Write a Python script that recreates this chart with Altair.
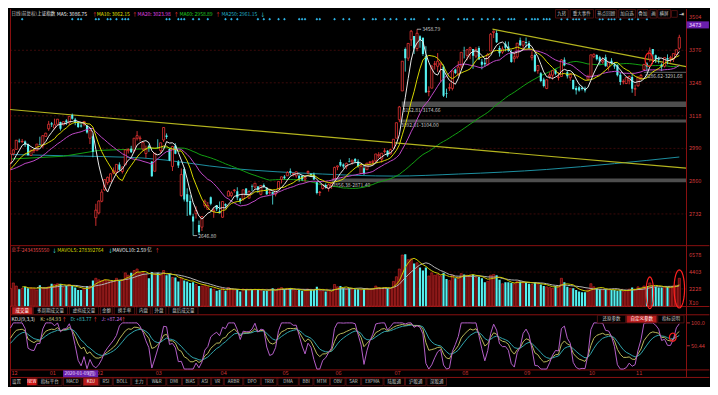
import altair as alt
import numpy as np
import pandas as pd

FONT = "Noto Sans CJK SC"

# ---------------- data ----------------
month_labels = ["12", "01", "02", "03", "04", "05", "06", "07", "08", "09", "10", "11"]
month_trading_days = [13, 16, 20, 22, 21, 18, 20, 23, 21, 22, 16, 16]

# closes before the first visible candle (only used to warm up MA5/10/20)
prior_close = [2909, 2934, 2911, 2904, 2885, 2906, 2910, 2903, 2890, 2872,
               2876, 2885, 2878, 2899, 2912, 2914, 2917, 2924, 2916]

open_px = [
    2935, 2969, 2986, 3020, 3016, 3017, 3007, 2962, 2981, 2981, 3007, 3000, 3037,
    3067, 3089, 3070, 3085, 3094, 3083, 3100, 3091, 3121, 3104, 3093, 3080, 3085, 3080, 3030, 3038,
    2717, 2736, 2782, 2827, 2856, 2859, 2893, 2897, 2927, 2899, 2925, 2981, 2989, 2980, 3030, 3028, 2988, 2970, 3000, 2938,
    2900, 2994, 2981, 3023, 3041, 2988, 2919, 3001, 2936, 2804, 2909, 2809, 2783, 2722, 2733, 2688, 2680, 2765, 2750, 2798, 2742, 2767,
    2743, 2719, 2771, 2802, 2804, 2824, 2821, 2793, 2790, 2832, 2794, 2839, 2838, 2840, 2809, 2846, 2835, 2815, 2818, 2810, 2830,
    2868, 2879, 2882, 2901, 2890, 2882, 2883, 2882, 2869, 2894, 2889, 2887, 2857, 2816, 2832, 2846, 2833, 2843,
    2870, 2917, 2936, 2927, 2919, 2940, 2937, 2948, 2938, 2891, 2912, 2906, 2935, 2935, 2941, 2961, 2948, 2978, 2981, 2968,
    2991, 3030, 3103, 3216, 3381, 3345, 3417, 3432, 3383, 3431, 3425, 3353, 3213, 3227, 3321, 3313, 3319, 3312, 3208, 3227, 3226, 3300, 3282,
    3315, 3373, 3356, 3378, 3381, 3353, 3385, 3331, 3327, 3320, 3373, 3446, 3444, 3385, 3369, 3402, 3391, 3369, 3343, 3350, 3415,
    3396, 3409, 3405, 3347, 3357, 3296, 3286, 3261, 3226, 3273, 3278, 3299, 3269, 3273, 3339, 3290, 3268, 3259, 3228, 3231, 3229, 3226,
    3262, 3274, 3351, 3357, 3349, 3330, 3349, 3310, 3335, 3319, 3317, 3280, 3252, 3245, 3256, 3271,
    3223, 3236, 3268, 3300, 3324, 3341, 3381, 3356, 3344, 3320, 3313, 3346, 3344, 3341, 3359, 3384,
]
high_px = [
    2968, 2986, 3023, 3028, 3027, 3021, 3009, 2984, 2985, 3007, 3036, 3041, 3051,
    3098, 3094, 3107, 3105, 3095, 3095, 3105, 3116, 3127, 3110, 3096, 3092, 3096, 3082, 3061, 3045,
    2772, 2785, 2829, 2869, 2879, 2891, 2915, 2927, 2935, 2918, 2984, 2991, 3000, 3030, 3058, 3040, 3013, 3001, 3005, 2939,
    2971, 3026, 3012, 3074, 3049, 2990, 3000, 3010, 2944, 2911, 2916, 2833, 2806, 2733, 2762, 2706, 2722, 2789, 2779, 2801, 2758, 2767,
    2781, 2781, 2774, 2825, 2821, 2830, 2837, 2795, 2827, 2833, 2825, 2848, 2853, 2842, 2844, 2852, 2838, 2832, 2820, 2823, 2860,
    2879, 2885, 2900, 2911, 2893, 2898, 2883, 2884, 2883, 2903, 2893, 2895, 2860, 2822, 2846, 2852, 2852, 2856,
    2918, 2922, 2946, 2931, 2934, 2952, 2944, 2952, 2947, 2924, 2921, 2932, 2939, 2945, 2968, 2975, 2972, 2991, 2983, 2988,
    3027, 3091, 3157, 3333, 3387, 3404, 3456, 3432, 3459, 3435, 3426, 3392, 3234, 3317, 3334, 3365, 3328, 3320, 3225, 3246, 3295, 3304, 3333,
    3368, 3390, 3381, 3390, 3381, 3388, 3392, 3342, 3345, 3365, 3444, 3454, 3454, 3394, 3391, 3411, 3410, 3378, 3367, 3404, 3426,
    3411, 3426, 3413, 3372, 3363, 3318, 3290, 3268, 3262, 3290, 3296, 3301, 3290, 3341, 3348, 3296, 3285, 3261, 3235, 3237, 3235, 3233,
    3280, 3359, 3364, 3360, 3354, 3348, 3359, 3329, 3345, 3329, 3320, 3288, 3262, 3270, 3277, 3285,
    3241, 3272, 3283, 3323, 3329, 3387, 3381, 3359, 3351, 3325, 3347, 3360, 3354, 3364, 3379, 3437,
]
low_px = [
    2935, 2962, 2986, 3012, 3012, 2996, 2962, 2960, 2972, 2980, 3004, 2992, 3036,
    3059, 3074, 3065, 3084, 3060, 3081, 3082, 3081, 3103, 3081, 3070, 3072, 3077, 3048, 3007, 2955,
    2685, 2730, 2778, 2822, 2847, 2858, 2888, 2889, 2902, 2891, 2924, 2970, 2972, 2974, 3021, 3017, 2982, 2952, 2976, 2878,
    2900, 2990, 2971, 3015, 3027, 2940, 2901, 2967, 2913, 2800, 2781, 2724, 2725, 2647, 2714, 2649, 2665, 2757, 2750, 2766, 2717, 2743,
    2734, 2717, 2754, 2802, 2797, 2816, 2786, 2772, 2784, 2804, 2794, 2822, 2832, 2815, 2805, 2834, 2807, 2808, 2769, 2801, 2829,
    2852, 2868, 2882, 2884, 2879, 2874, 2859, 2862, 2857, 2889, 2878, 2866, 2809, 2803, 2828, 2832, 2820, 2831,
    2870, 2904, 2918, 2911, 2908, 2935, 2926, 2934, 2914, 2890, 2885, 2906, 2922, 2924, 2935, 2952, 2934, 2970, 2956, 2966,
    2988, 3030, 3093, 3216, 3292, 3334, 3393, 3361, 3372, 3386, 3354, 3210, 3195, 3226, 3300, 3291, 3252, 3192, 3189, 3216, 3218, 3282, 3274,
    3302, 3344, 3337, 3341, 3303, 3345, 3340, 3301, 3311, 3315, 3373, 3424, 3405, 3351, 3362, 3372, 3370, 3327, 3328, 3343, 3392,
    3378, 3387, 3378, 3336, 3290, 3284, 3250, 3230, 3223, 3263, 3260, 3278, 3257, 3272, 3313, 3265, 3256, 3223, 3202, 3213, 3218, 3210,
    3259, 3274, 3345, 3336, 3320, 3323, 3312, 3296, 3322, 3303, 3273, 3239, 3242, 3243, 3242, 3209,
    3196, 3233, 3258, 3298, 3293, 3331, 3340, 3326, 3324, 3294, 3308, 3321, 3328, 3330, 3356, 3378,
]
close_px = [
    2968, 2984, 3022, 3017, 3017, 3005, 2963, 2983, 2982, 3007, 3005, 3040, 3050,
    3085, 3084, 3083, 3105, 3067, 3095, 3092, 3116, 3107, 3090, 3074, 3076, 3096, 3052, 3061, 2977,
    2747, 2783, 2818, 2867, 2876, 2890, 2902, 2927, 2906, 2917, 2984, 2985, 2975, 3030, 3040, 3031, 3013, 2988, 2991, 2880,
    2971, 2993, 3012, 3072, 3035, 2943, 2997, 2969, 2923, 2887, 2789, 2780, 2729, 2702, 2746, 2660, 2722, 2782, 2765, 2772, 2747, 2750,
    2735, 2781, 2764, 2821, 2815, 2826, 2797, 2783, 2827, 2811, 2820, 2838, 2853, 2827, 2844, 2839, 2809, 2815, 2810, 2822, 2860,
    2878, 2872, 2895, 2895, 2892, 2898, 2870, 2868, 2875, 2899, 2884, 2868, 2814, 2818, 2847, 2837, 2847, 2852,
    2915, 2921, 2923, 2919, 2931, 2938, 2944, 2938, 2921, 2920, 2890, 2932, 2936, 2939, 2968, 2965, 2971, 2980, 2962, 2985,
    3026, 3091, 3153, 3333, 3345, 3403, 3451, 3383, 3443, 3415, 3361, 3210, 3214, 3314, 3321, 3333, 3325, 3197, 3205, 3228, 3295, 3287, 3310,
    3368, 3372, 3378, 3386, 3354, 3379, 3340, 3319, 3321, 3360, 3439, 3451, 3408, 3364, 3381, 3386, 3374, 3330, 3350, 3404, 3396,
    3411, 3405, 3385, 3355, 3293, 3316, 3255, 3235, 3260, 3279, 3296, 3284, 3270, 3338, 3317, 3274, 3280, 3223, 3219, 3218, 3224, 3218,
    3272, 3358, 3360, 3341, 3332, 3336, 3313, 3328, 3325, 3312, 3278, 3251, 3254, 3269, 3273, 3225,
    3225, 3271, 3277, 3320, 3312, 3374, 3360, 3342, 3339, 3310, 3347, 3340, 3347, 3363, 3378, 3427,
]
# volume, axis units (x10^5)
volume = [
    2300, 3000, 2600, 2200, 2300, 2500, 2300, 2400, 2300, 2100, 2700, 2300, 2380,
    2500, 2900, 2800, 2900, 2886, 2434, 2600, 2800, 2600, 2400, 2100, 2100, 2300, 2600, 2600, 3300,
    3600, 3400, 3300, 3400, 3300, 3200, 3200, 3600, 3300, 3400, 4300, 4000, 4300, 4600, 4800, 4300, 4400, 4100, 3600, 4400,
    4100, 4300, 4000, 4600, 4000, 4200, 3700, 3700, 3200, 3600, 3300, 3200, 3000, 3100, 2800, 2600, 2600, 2700, 2500, 2300, 2200, 2000,
    2100, 2300, 2000, 2400, 2200, 2100, 2200, 1900, 2200, 2200, 2100, 2200, 2100, 2200, 2100, 2000, 2000, 2100, 2300, 2000, 2300,
    2400, 2200, 2300, 2300, 2100, 2000, 2100, 2000, 2000, 2200, 2100, 2100, 2500, 2000, 2000, 1900, 2000, 1900,
    2800, 2500, 2600, 2300, 2200, 2300, 2200, 2200, 2200, 2100, 2200, 2300, 2200, 2300, 2600, 2400, 2300, 2400, 2300, 2300,
    3200, 3800, 4800, 6600, 6700, 6000, 6100, 5500, 5600, 5000, 4600, 5000, 3900, 4300, 4000, 4100, 3900, 4300, 3500, 3300, 4000, 3600, 3700,
    4200, 4100, 4000, 4000, 4100, 3700, 3800, 3600, 3100, 3200, 4000, 4100, 4000, 3400, 2900, 3100, 3100, 3000, 2900, 3200, 3200,
    3100, 3100, 2900, 2800, 3100, 2900, 2800, 2600, 2500, 2400, 2300, 2600, 2600, 3600, 3100, 2500, 2300, 2300, 2100, 1900, 1800, 1800,
    2100, 2900, 2500, 2300, 2200, 2100, 2200, 2100, 2100, 2100, 2000, 2100, 1900, 2000, 2200, 2400,
    2200, 2500, 2300, 2600, 2600, 3000, 2700, 2500, 2400, 2400, 2500, 2500, 2400, 2600, 2700, 3600,
]

ma60_read_day = [0, 18, 30, 45, 53]
ma60_read_val = [2948, 2959, 2982, 2988, 2993]
ma250_day = [0, 18, 45, 75, 106, 130, 152, 182, 205, 227]
ma250_val = [2966, 2961, 2952, 2911, 2889, 2881, 2889, 2907, 2930, 2956]

price_ticks = [3504, 3376, 3248, 3118, 2990, 2860, 2732]
vol_ticks = [6578, 4403, 2228]
kdj_ticks = [100.0, 50.44]

news_days = [4, 21, 23, 24, 29, 30, 33, 34, 36, 38, 39, 40, 53, 54, 57, 58, 59, 62, 64, 67,
             73, 75, 77, 84, 86, 88, 91, 93, 98, 99, 100, 104, 105, 110, 113, 115, 120, 123,
             124, 127, 129, 131, 134, 136, 137, 142, 145, 147, 152, 154, 155, 157, 160, 162,
             164, 166, 169, 170, 171, 175, 177, 178, 179, 181, 182, 183, 187, 189, 191, 192,
             193, 195, 200, 201, 203, 204, 205, 207, 210, 211, 213, 216]

gap_text = ["3152.81-3174.66", "3092.01-3104.00", "2856.38-2871.40", "3286.62-3291.68"]
gap_low = [3152.81, 3092.01, 2856.38, 3286.62]
gap_high = [3174.66, 3104.00, 2871.40, 3291.68]
gap_start = [132.8, 132.2, 109.0, 215.0]

trend_day = [-0.13, 229.28, 163.6, 229.28]
trend_val = [3143, 2912, 3459, 3312]
trend_id = ["a", "a", "b", "b"]

# ---------------- layout ----------------
SX = 700 / 718
SY = 377 / 395


def X(v):
    return v * SX


def Y(v):
    return v * SY


W = X(694)
H = Y(395)
RED = "#ff3a3a"
CYAN = "#54f0f0"
FRAME = "#8a1010"
GRID = "#4a0c0c"
AXT = "#d23a3a"
ONE = pd.DataFrame({"k": [0]})
LAT = 5.0   # latin text size
CJK = 4.5   # CJK text size
AXS = 5.6   # axis label size

xs = alt.Scale(domain=[-0.13, 229.28], range=[0, W], nice=False, zero=False)
ps = alt.Scale(domain=[2607.2, 3537.8], range=[Y(248), 0], nice=False, zero=False)
vs = alt.Scale(domain=[0, 6578], range=[Y(311.5), Y(258)], nice=False, zero=False)
ks = alt.Scale(domain=[0, 100], range=[Y(377.4), Y(329)], nice=False, zero=False, clamp=True)


def XE(f="i"):
    return alt.X(f"{f}:Q", scale=xs, axis=None)


def YE(f, s):
    return alt.Y(f"{f}:Q", scale=s, axis=None)


def T(s, x, y, color, size=LAT, align="left", baseline="middle"):
    return alt.Chart(ONE).mark_text(text=s, align=align, baseline=baseline, fontSize=size,
                                    font=FONT, color=color).encode(
        x=alt.value(X(x)), y=alt.value(Y(y)))


def R(x1, y1, x2, y2, fill, stroke=None, sw=0.8):
    kw = dict(fill=fill)
    if stroke:
        kw.update(stroke=stroke, strokeWidth=sw)
    return alt.Chart(ONE).mark_rect(**kw).encode(
        x=alt.value(X(x1)), x2=alt.value(X(x2)), y=alt.value(Y(y1)), y2=alt.value(Y(y2)))


def HL(y, x1, x2, color, sw=1.0):
    return alt.Chart(ONE).mark_rule(color=color, strokeWidth=sw).encode(
        x=alt.value(X(x1)), x2=alt.value(X(x2)), y=alt.value(Y(y)))


def VL(x, y1, y2, color, sw=1.0):
    return alt.Chart(ONE).mark_rule(color=color, strokeWidth=sw).encode(
        x=alt.value(X(x)), y=alt.value(Y(y1)), y2=alt.value(Y(y2)))


def tabs(labels, edges, y1, y2, selected=None, size=CJK):
    out = []
    for lab, (a, b) in zip(labels, edges):
        sel = lab == selected
        out.append(R(a, y1, b, y2, "#b81c1c" if sel else "#000000", "#5e1414", 0.8))
        out.append(T(lab, (a + b) / 2, (y1 + y2) / 2 + 0.3, "#ffffff" if sel else "#c8c8c8",
                     size=size, align="center"))
    return out


def ellipse_shape(ratio):
    pts = []
    for k in range(32):
        t = 2 * np.pi * k / 32
        pts.append(f"{ratio * np.cos(t):.3f} {np.sin(t):.3f}")
    return "M " + " L ".join(pts) + " Z"


# ---------------- derived tables ----------------
N = len(close_px)
df = pd.DataFrame({"i": np.arange(N), "o": open_px, "h": high_px, "l": low_px,
                   "c": close_px, "v": volume})
df["h"] = df[["h", "o", "c"]].max(axis=1)
df["l"] = df[["l", "o", "c"]].min(axis=1)
df["up"] = df.c >= df.o
df["xl"] = df.i - 0.36
df["xr"] = df.i + 0.36
df["cb"] = np.where((df.c - df.o).abs() < 1.5, df.o + 1.5, df.c)
df["z"] = 0

allc = pd.Series(prior_close + close_px, dtype=float)
P = len(prior_close)
for n in (5, 10, 20):
    df[f"ma{n}"] = allc.rolling(n).mean().iloc[P:].to_numpy()
df["mv5"] = df.v.rolling(5).mean()
df["mv10"] = df.v.rolling(10).mean()

ma60_calc = df.c.rolling(60).mean()
ma60_df = pd.concat([
    pd.DataFrame({"i": ma60_read_day, "m": ma60_read_val}),
    pd.DataFrame({"i": df.i, "m": ma60_calc}).dropna(),
])
ma250_df = pd.DataFrame({"i": ma250_day, "m": ma250_val})
trend_df = pd.DataFrame({"i": trend_day, "p": trend_val, "g": trend_id})

# KDJ(9,3,3)
K = D = 50.0
ks_, ds_, js_ = [], [], []
for t in range(N):
    lo = df.l.iloc[max(0, t - 8):t + 1].min()
    hi = df.h.iloc[max(0, t - 8):t + 1].max()
    rsv = (df.c.iloc[t] - lo) / (hi - lo) * 100 if hi > lo else 50
    K = 2 / 3 * K + rsv / 3
    D = 2 / 3 * D + K / 3
    ks_.append(K)
    ds_.append(D)
    js_.append(3 * K - 2 * D)
df["K"], df["D"], df["J"] = ks_, ds_, js_

up = df[df.up]
dn = df[~df.up]

starts = np.concatenate([[0], np.cumsum(month_trading_days)[:-1]])
month_df = pd.DataFrame({"s": starts, "m": month_labels})

layers = []

# grids
layers.append(alt.Chart(pd.DataFrame({"p": price_ticks[1:]})).mark_rule(
    color=GRID, strokeDash=[2, 2], strokeWidth=0.8).encode(
    y=YE("p", ps), x=alt.value(0), x2=alt.value(W)))
layers.append(alt.Chart(pd.DataFrame({"p": vol_ticks[1:]})).mark_rule(
    color=GRID, strokeDash=[2, 2], strokeWidth=0.8).encode(
    y=YE("p", vs), x=alt.value(0), x2=alt.value(W)))

# frame lines
for yy in (248, 311.8, 320.5, 378.3, 386.2):
    layers.append(HL(yy, 0, 718, FRAME))
layers.append(VL(694.5, 0, 386.2, FRAME))
layers.append(VL(0.5, 0, 395, FRAME))

# gaps
gaps_df = pd.DataFrame({"s": gap_start, "lo": gap_low, "hi": gap_high, "t": gap_text})
layers.append(alt.Chart(gaps_df).mark_rect(color="#4e4e4e").encode(
    x=XE("s"), x2=alt.value(W), y=YE("lo", ps), y2="hi:Q"))
layers.append(alt.Chart(gaps_df).mark_text(align="left", baseline="top", fontSize=LAT, font=FONT,
                                           color="#c8c8c8", dx=1, dy=0.6).encode(
    x=XE("s"), y=YE("lo", ps), text="t:N"))

# long MAs and trend lines
layers.append(alt.Chart(ma250_df).mark_line(color="#1d8fa0", strokeWidth=1, interpolate="monotone").encode(
    x=XE(), y=YE("m", ps)))
layers.append(alt.Chart(ma60_df).mark_line(color="#12a012", strokeWidth=1).encode(
    x=XE(), y=YE("m", ps)))
layers.append(alt.Chart(trend_df).mark_line(color="#b4b41e", strokeWidth=1.2, clip=True).encode(
    x=XE(), y=YE("p", ps), detail="g:N"))

# candles
layers.append(alt.Chart(up).mark_rule(color=RED, strokeWidth=0.8, clip=True).encode(
    x=XE(), y=YE("l", ps), y2="h:Q"))
layers.append(alt.Chart(dn).mark_rule(color=CYAN, strokeWidth=0.8, clip=True).encode(
    x=XE(), y=YE("l", ps), y2="h:Q"))
layers.append(alt.Chart(up).mark_rect(fill="#000000", stroke=RED, strokeWidth=0.7, clip=True).encode(
    x=XE("xl"), x2="xr:Q", y=YE("o", ps), y2="cb:Q"))
layers.append(alt.Chart(dn).mark_rect(color=CYAN, clip=True).encode(
    x=XE("xl"), x2="xr:Q", y=YE("o", ps), y2="cb:Q"))

# short MAs
for f, col in (("ma20", "#c048c8"), ("ma10", "#d8d800"), ("ma5", "#e8e8e8")):
    layers.append(alt.Chart(df[["i", f]].dropna()).mark_line(color=col, strokeWidth=1).encode(
        x=XE(), y=YE(f, ps)))

# high / low marks
hl_df = pd.DataFrame({"i0": [138, 62], "i1": [139.4, 63.4], "p": [3458.79, 2646.80],
                      "t": ["3458.79", "2646.80"]})
layers.append(alt.Chart(hl_df).mark_rule(color="#c8c8c8", strokeWidth=0.8).encode(
    x=XE("i0"), x2="i1:Q", y=YE("p", ps)))
layers.append(alt.Chart(hl_df).mark_text(align="left", baseline="middle", fontSize=LAT, font=FONT,
                                         color="#c8c8c8", dx=1).encode(
    x=XE("i1"), y=YE("p", ps), text="t:N"))

# news dots
layers.append(alt.Chart(pd.DataFrame({"i": news_days})).mark_point(
    shape="diamond", filled=True, size=7, color="#2db4e6", opacity=1).encode(
    x=XE(), y=alt.value(Y(10.5))))


# ellipses
def ell(i, val, scale, rx, ry):
    return alt.Chart(pd.DataFrame({"i": [i], "v": [val]})).mark_point(
        shape=ellipse_shape(rx / ry), size=(2 * Y(ry)) ** 2, filled=False,
        stroke="#ff2020", strokeWidth=1.2, opacity=1).encode(x=XE(), y=YE("v", scale))


layers.append(ell(216.7, 3339, ps, 4, 7))

# volume
layers.append(alt.Chart(up).mark_rect(fill="#5c0a0a", stroke="#d42a2a", strokeWidth=0.6, clip=True).encode(
    x=XE("xl"), x2="xr:Q", y=YE("v", vs), y2="z:Q"))
layers.append(alt.Chart(dn).mark_rect(color=CYAN, clip=True).encode(
    x=XE("xl"), x2="xr:Q", y=YE("v", vs), y2="z:Q"))
layers.append(alt.Chart(df[["i", "mv10"]].dropna()).mark_line(color="#b4b4b4", strokeWidth=1).encode(
    x=XE(), y=YE("mv10", vs)))
layers.append(alt.Chart(df[["i", "mv5"]].dropna()).mark_line(color="#c8c800", strokeWidth=1).encode(
    x=XE(), y=YE("mv5", vs)))
layers.append(ell(217, 1736, vs, 4, 16.5))
layers.append(ell(227, 2232, vs, 5.5, 20))

# KDJ
for f, col in (("D", "#2fa4ac"), ("K", "#b8b85a"), ("J", "#b45ec8")):
    layers.append(alt.Chart(df[["i", f]]).mark_line(color=col, strokeWidth=1).encode(
        x=XE(), y=YE(f, ks)))
layers.append(ell(224.8, 69, ks, 3.5, 4.2))

# ---------------- texts ----------------
# header
layers += [
    T("日线(前复权)", 1.5, 4.8, "#c8c8c8", CJK),
    T("上证指数", 28, 4.8, "#f0f0f0", CJK),
    T("MA5: 3086.75", 48, 4.8, "#f0f0f0"), T("↑", 84.5, 4.8, RED),
    T("MA10: 3062.15", 89, 4.8, "#e0e000"), T("↑", 125.5, 4.8, RED),
    T("MA20: 3023.98", 131, 4.8, "#e040e0"), T("↑", 168, 4.8, RED),
    T("MA60: 2958.89", 174, 4.8, "#20d020"), T("↑", 211, 4.8, RED),
    T("MA250: 2961.15", 217, 4.8, "#20b0c8"), T("↓", 257, 4.8, CYAN),
]
top_btn = ["九转", "重大事件", "热点回顾", "加自选", "叠加", "画", "横屏"]
top_edges = [(560, 573), (575, 599), (601, 623), (625, 642), (644, 655), (657, 664), (665, 678)]
layers += tabs(top_btn, top_edges, 0.5, 9.3)
layers += [R(679, 1.5, 685, 8.5, "#000000", "#5e1414"), T("⇥", 689.5, 5, "#e0e0e0", 6, "center")]

# price axis labels (top one sits just above the current-price box)
layers.append(alt.Chart(pd.DataFrame({"p": price_ticks[1:], "t": [str(v) for v in price_ticks[1:]]})).mark_text(
    align="left", baseline="middle", fontSize=AXS, font=FONT, color=AXT).encode(
    x=alt.value(X(697)), y=YE("p", ps), text="t:N"))
layers.append(alt.Chart(pd.DataFrame({"p": price_ticks[:1], "t": [str(price_ticks[0])]})).mark_text(
    align="left", baseline="bottom", fontSize=AXS, font=FONT, color=AXT, dy=2.5).encode(
    x=alt.value(X(697)), y=YE("p", ps), text="t:N"))
layers += [R(694.5, 12.8, 717.5, 20.2, "#6a1fae"), T("3473", 697, 16.6, "#f0d8ff", AXS)]

# volume header + axis
layers += [
    T("总手:", 1.5, 252.5, "#e04848", CJK), T("2434355550", 12, 252.5, "#e04848"), T("↓", 43, 252.5, CYAN),
    T("MAVOL5: 278392764", 48.5, 252.5, "#d8d800"), T("↓", 100.5, 252.5, CYAN),
    T("MAVOL10: 2.59", 105, 252.5, "#e8e8e8"), T("亿", 141, 252.5, "#e8e8e8", CJK),
    T("↑", 148.5, 252.5, RED),
]
layers.append(alt.Chart(pd.DataFrame({"p": vol_ticks, "t": [str(v) for v in vol_ticks]})).mark_text(
    align="left", baseline="middle", fontSize=AXS, font=FONT, color=AXT).encode(
    x=alt.value(X(697)), y=YE("p", vs), text="t:N"))
layers.append(T("X10", 697, 308, AXT, AXS))

vol_tabs = ["成交量", "多周期成交量", "虚拟成交量", "金额", "换手率", "内盘", "外盘", "盘后成交量"]
vol_edges = [(2, 23), (24, 59), (61, 91), (93, 105), (107, 128), (130, 144), (146, 160), (163, 193)]
layers += tabs(vol_tabs, vol_edges, 312.3, 320.2, "成交量")

# KDJ header + axis
layers += [
    T("KDJ(9,3,3)", 1.5, 324.8, "#e8e8e8"),
    T("K: +84.93", 31, 324.8, "#d0d080"), T("↑", 53, 324.8, RED),
    T("D: +83.77", 62, 324.8, "#40c0c8"), T("↑", 85, 324.8, RED),
    T("J: +87.24", 94, 324.8, "#d070e0"), T("↑", 114, 324.8, RED),
]
kdj_btn = ["还原参数", "自定义参数", "指标说明"]
kdj_edges = [(603, 632), (633, 664), (665, 692)]
layers += tabs(kdj_btn, kdj_edges, 321, 329, "自定义参数")
layers.append(alt.Chart(pd.DataFrame({"p": kdj_ticks, "t": ["100.0", "50.44"]})).mark_text(
    align="left", baseline="middle", fontSize=AXS, font=FONT, color=AXT).encode(
    x=alt.value(X(699)), y=YE("p", ks), text="t:N"))
layers.append(alt.Chart(pd.DataFrame({"p": kdj_ticks})).mark_rule(color=AXT, strokeWidth=0.8).encode(
    x=alt.value(X(695)), x2=alt.value(X(698)), y=YE("p", ks)))

# month labels + cursor date
layers.append(alt.Chart(month_df).mark_text(align="left", baseline="middle", fontSize=5.6, font=FONT,
                                            color="#c83232", dx=1).encode(
    x=XE("s"), y=alt.value(Y(382)), text="m:N"))
layers += [R(54.5, 378.6, 90.5, 385.9, "#6a1fae"),
           T("2020-01-09", 56, 382.3, "#f0e0ff", 4.8), T("(四)", 80, 382.3, "#f0e0ff", CJK)]

# bottom tabs
layers += [T("设置", 2, 390.8, "#c8c8c8", CJK),
           R(17.5, 387.2, 27.5, 394.5, "#d01818"), T("NEW", 22.5, 390.9, "#ffffff", 4.2, "center"),
           R(28, 386.8, 53.5, 394.8, "#000000", "#5e1414"), T("指标平台", 40.7, 391, "#c8c8c8", CJK, "center")]
bot_tabs = ["MACD", "KDJ", "RSI", "BOLL", "主力", "W&R", "DMI", "BIAS", "ASI", "VR", "ARBR", "DPO",
            "TRIX", "DMA", "BBI", "MTM", "OBV", "SAR", "EXPMA", "陆股通", "沪股通", "深股通"]
bot_edges = [(55, 73), (75, 91), (92, 105), (106, 124), (125, 140), (141, 160), (161, 176), (177, 193),
             (194, 206), (207, 219), (220, 239), (240, 257), (258, 274), (275, 296), (297, 311),
             (312, 328), (329, 344), (345, 360), (361, 383), (384, 405), (406, 427), (428, 448)]
layers += tabs(bot_tabs, bot_edges, 386.8, 394.8, "KDJ")

chart = alt.layer(*layers).resolve_scale(y="independent").properties(
    width=W, height=H, padding=0
).configure(background="#000000").configure_view(strokeWidth=0)

chart.save("out.html", embed_options={"renderer": "svg", "actions": False})
